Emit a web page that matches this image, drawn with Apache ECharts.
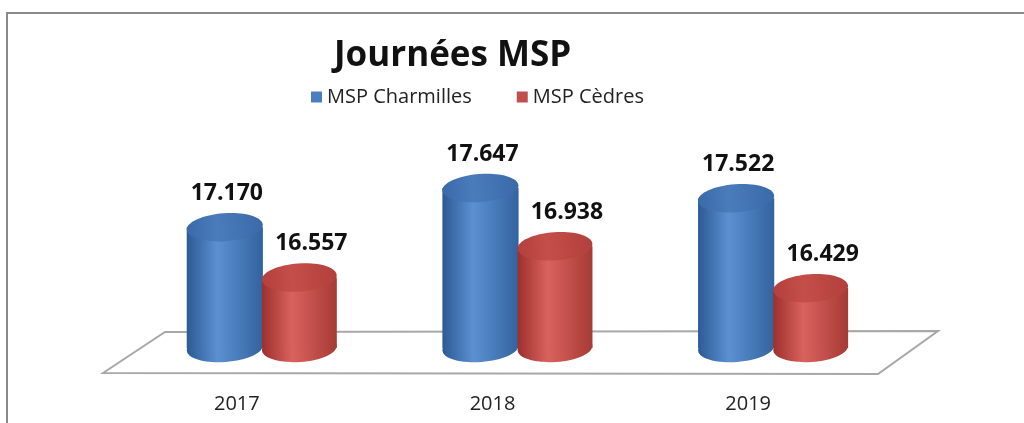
<!DOCTYPE html>
<html>
<head>
<meta charset="utf-8">
<style>
  html, body { margin: 0; padding: 0; background: #fff; }
  #main { width: 1024px; height: 423px; }
</style>
<script src="https://cdn.jsdelivr.net/npm/echarts@6/dist/echarts.min.js"></script>
</head>
<body>
<div id="main"></div>
<script>
const years = ['2017', '2018', '2019']
const charmilles = [17170, 17647, 17522]
const cedres = [16557, 16938, 16429]
const seriesNames = ['MSP Charmilles', 'MSP Cèdres']

const Y_MIN = 15700
const Y_MAX = 18000
const FONT = '"Open Sans", "Liberation Sans", sans-serif'

function formatNumber(v) {
  return String(v).replace(/\B(?=(\d{3})+(?!\d))/g, '.')
}

function shade(left, mid, right) {
  return new echarts.graphic.LinearGradient(0, 0, 1, 0, [
    { offset: 0, color: left },
    { offset: 0.4, color: mid },
    { offset: 1, color: right },
  ])
}

// draws one cylinder per category, placed inside the band by fractions of its width
function cylinder(from, to, colors, labelShift) {
  return function (params, api) {
    const cat = api.value(0)
    const val = api.value(1)
    const top = api.coord([cat, val])
    const base = api.coord([cat, Y_MIN])
    const band = api.size([1, 0])[0]
    const x0 = top[0] + band * from
    const x1 = top[0] + band * to
    const cx = (x0 + x1) / 2
    const rx = (x1 - x0) / 2
    const ry = 14
    const tilt = 0.07
    const body = shade(colors[0], colors[1], colors[2])
    return {
      type: 'group',
      children: [
        {
          type: 'ellipse',
          shape: { cx: cx, cy: base[1], rx: rx, ry: ry },
          rotation: tilt, originX: cx, originY: base[1],
          style: { fill: body },
        },
        {
          type: 'rect',
          shape: { x: x0, y: top[1], width: x1 - x0, height: base[1] - top[1] },
          style: { fill: body },
        },
        {
          type: 'ellipse',
          shape: { cx: cx, cy: top[1], rx: rx, ry: ry },
          rotation: tilt, originX: cx, originY: top[1],
          style: { fill: shade(colors[3], colors[4], colors[3]) },
        },
        {
          type: 'text',
          style: {
            text: formatNumber(val),
            x: cx + labelShift,
            y: top[1] - 34,
            align: 'center',
            verticalAlign: 'middle',
            font: 'bold 23px ' + FONT,
            fill: '#111',
          },
        },
      ],
    }
  }
}

const chart = echarts.init(document.getElementById('main'))

const option = {
  animation: false,
  title: {
    text: 'Journées MSP',
    left: 329,
    top: 34,
    textStyle: { fontFamily: FONT, fontWeight: 'bold', fontSize: 35, color: '#111' },
  },
  legend: {
    data: seriesNames,
    left: 306,
    top: 82,
    icon: 'rect',
    itemWidth: 11,
    itemHeight: 11,
    itemGap: 45,
    textStyle: { fontFamily: FONT, fontSize: 20, color: '#222' },
  },
  grid: { left: 109, width: 767, top: 159, bottom: 75 },
  xAxis: {
    type: 'category',
    data: years,
    axisLine: { show: false },
    axisTick: { show: false },
    axisLabel: { margin: 46, fontFamily: FONT, fontSize: 20, color: '#222' },
  },
  yAxis: {
    type: 'value',
    min: Y_MIN,
    max: Y_MAX,
    show: false,
  },
  graphic: [
    {
      type: 'rect',
      z: -10,
      shape: { x: 7, y: 13, width: 1100, height: 500 },
      style: { fill: 'none', stroke: '#8a8a8a', lineWidth: 2 },
    },
    {
      type: 'polygon',
      z: -5,
      shape: { points: [[103, 373], [165, 332], [938, 331], [878, 374]] },
      style: { fill: '#fff', stroke: '#a8a8a8', lineWidth: 2 },
    },
  ],
  series: [
    {
      name: seriesNames[0],
      type: 'custom',
      itemStyle: { color: '#4a7ebf' },
      renderItem: cylinder(-0.196, 0.102, ['#2c5a94', '#5b90d2', '#33639e', '#3a6aa8', '#4a7bbb'], 2),
      data: charmilles.map((v, i) => [i, v]),
    },
    {
      name: seriesNames[1],
      type: 'custom',
      itemStyle: { color: '#c0504d' },
      renderItem: cylinder(0.098, 0.391, ['#9c302d', '#da625e', '#a63a36', '#b2403c', '#c44e4a'], 12),
      data: cedres.map((v, i) => [i, v]),
    },
  ],
}

chart.setOption(option)
</script>
</body>
</html>
